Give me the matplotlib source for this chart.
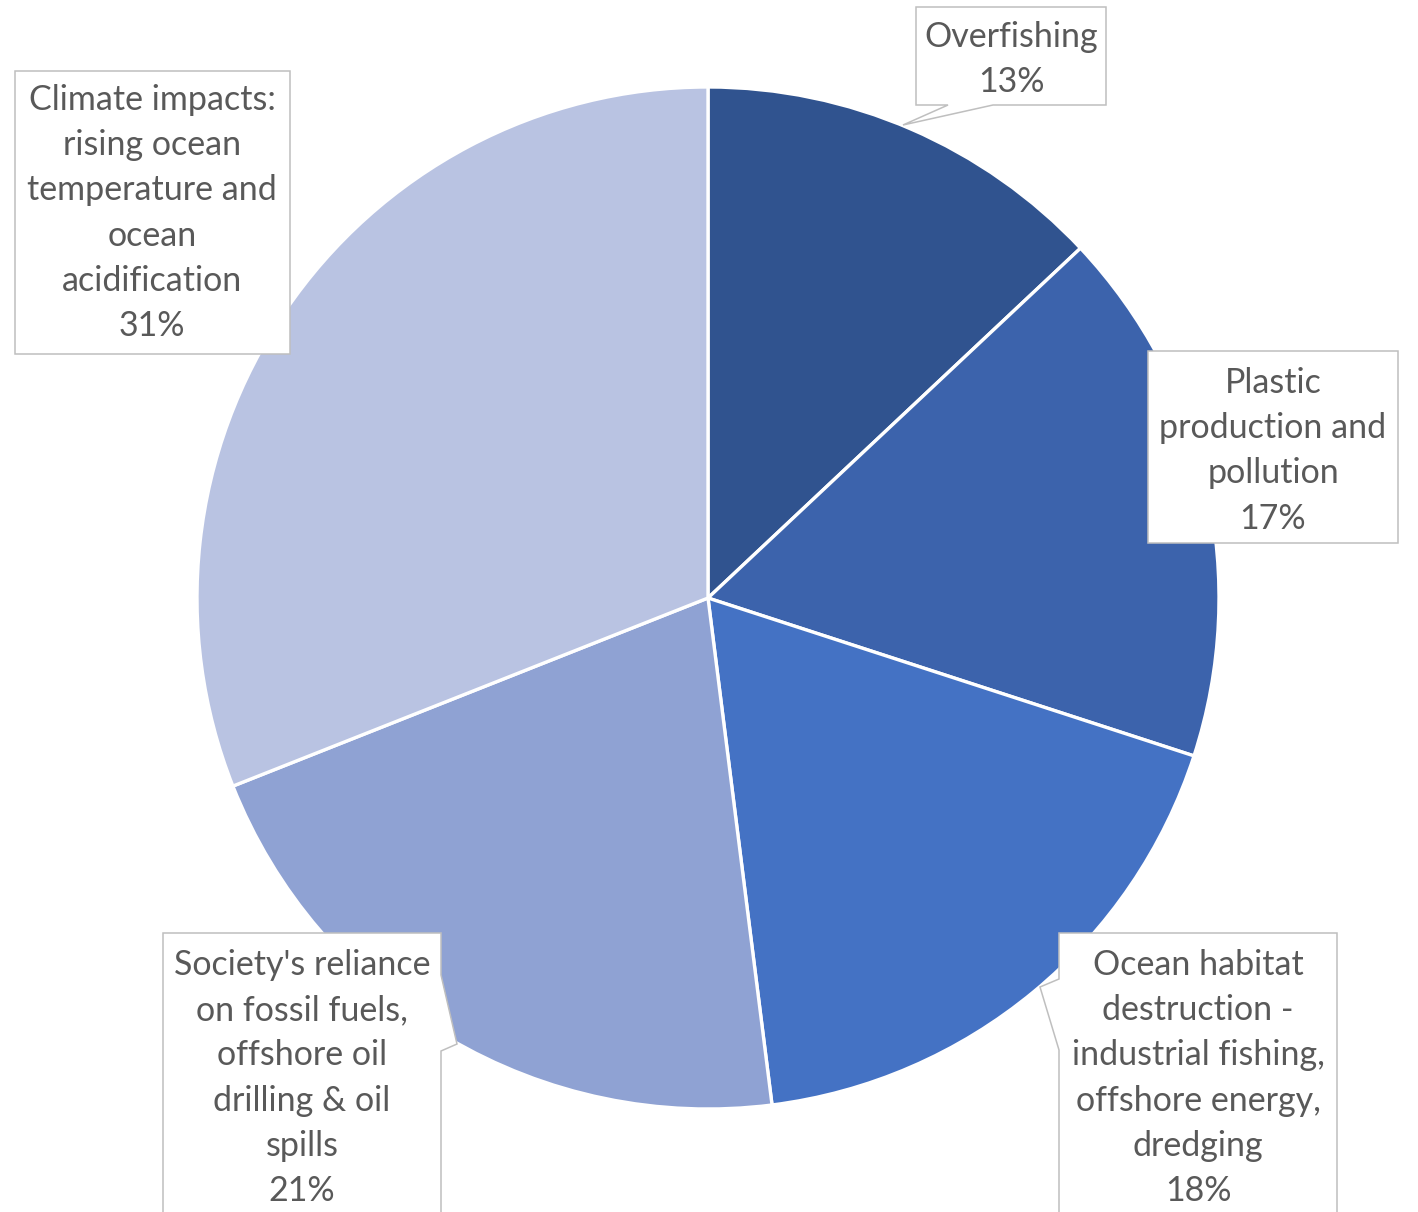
import matplotlib.pyplot as plt
from matplotlib.patches import Polygon

# ocean threats, share of total (%)
categories = [
    "Overfishing",
    "Plastic\nproduction and\npollution",
    "Ocean habitat\ndestruction -\nindustrial fishing,\noffshore energy,\ndredging",
    "Society's reliance\non fossil fuels,\noffshore oil\ndrilling & oil\nspills",
    "Climate impacts:\nrising ocean\ntemperature and\nocean\nacidification",
]
shares = [13, 17, 18, 21, 31]
colors = ["#30538F", "#3C63AC", "#4472C4", "#8FA2D3", "#B9C3E2"]

# callout boxes in pixel coords: outline, text centre x, first baseline y
callouts = [
    ([(916, 7), (1106, 7), (1106, 105), (993, 105), (903, 125), (948, 105), (916, 105)], 1011, 47),
    ([(1148, 351), (1398, 351), (1398, 543), (1148, 543)], 1273, 393),
    ([(1059, 933), (1337, 933), (1337, 1240), (1059, 1240), (1059, 1050), (1040, 987), (1059, 979)], 1198, 975),
    ([(163, 933), (441, 933), (441, 975), (457, 1044), (441, 1051), (441, 1240), (163, 1240)], 302, 975),
    ([(15, 71), (290, 71), (290, 354), (15, 354)], 152, 110),
]
pitch = 45.2

fig = plt.figure(figsize=(14.18, 12.12), dpi=100)
ax = fig.add_axes([0, 0, 1, 1])

# y axis runs downward, so counterclockwise in data space reads clockwise on screen
ax.pie(shares, colors=colors, startangle=-90, counterclock=True,
       center=(708, 598), radius=511, frame=True,
       wedgeprops=dict(edgecolor="white", linewidth=2.4))
ax.set_xlim(0, 1418)
ax.set_ylim(1212, 0)
ax.set_aspect("equal")
ax.axis("off")

for cat, share, (outline, cx, y0) in zip(categories, shares, callouts):
    ax.add_patch(Polygon(outline, closed=True, facecolor="white",
                         edgecolor="#BFBFBF", linewidth=1.1, zorder=3))
    lines = cat.split("\n") + [f"{share}%"]
    for i, line in enumerate(lines):
        ax.text(cx, y0 + i * pitch, line, ha="center", va="baseline",
                fontsize=24.5, family=["Lato", "DejaVu Sans"], color="#595959", zorder=4)

fig.savefig("out.png", dpi=100)
